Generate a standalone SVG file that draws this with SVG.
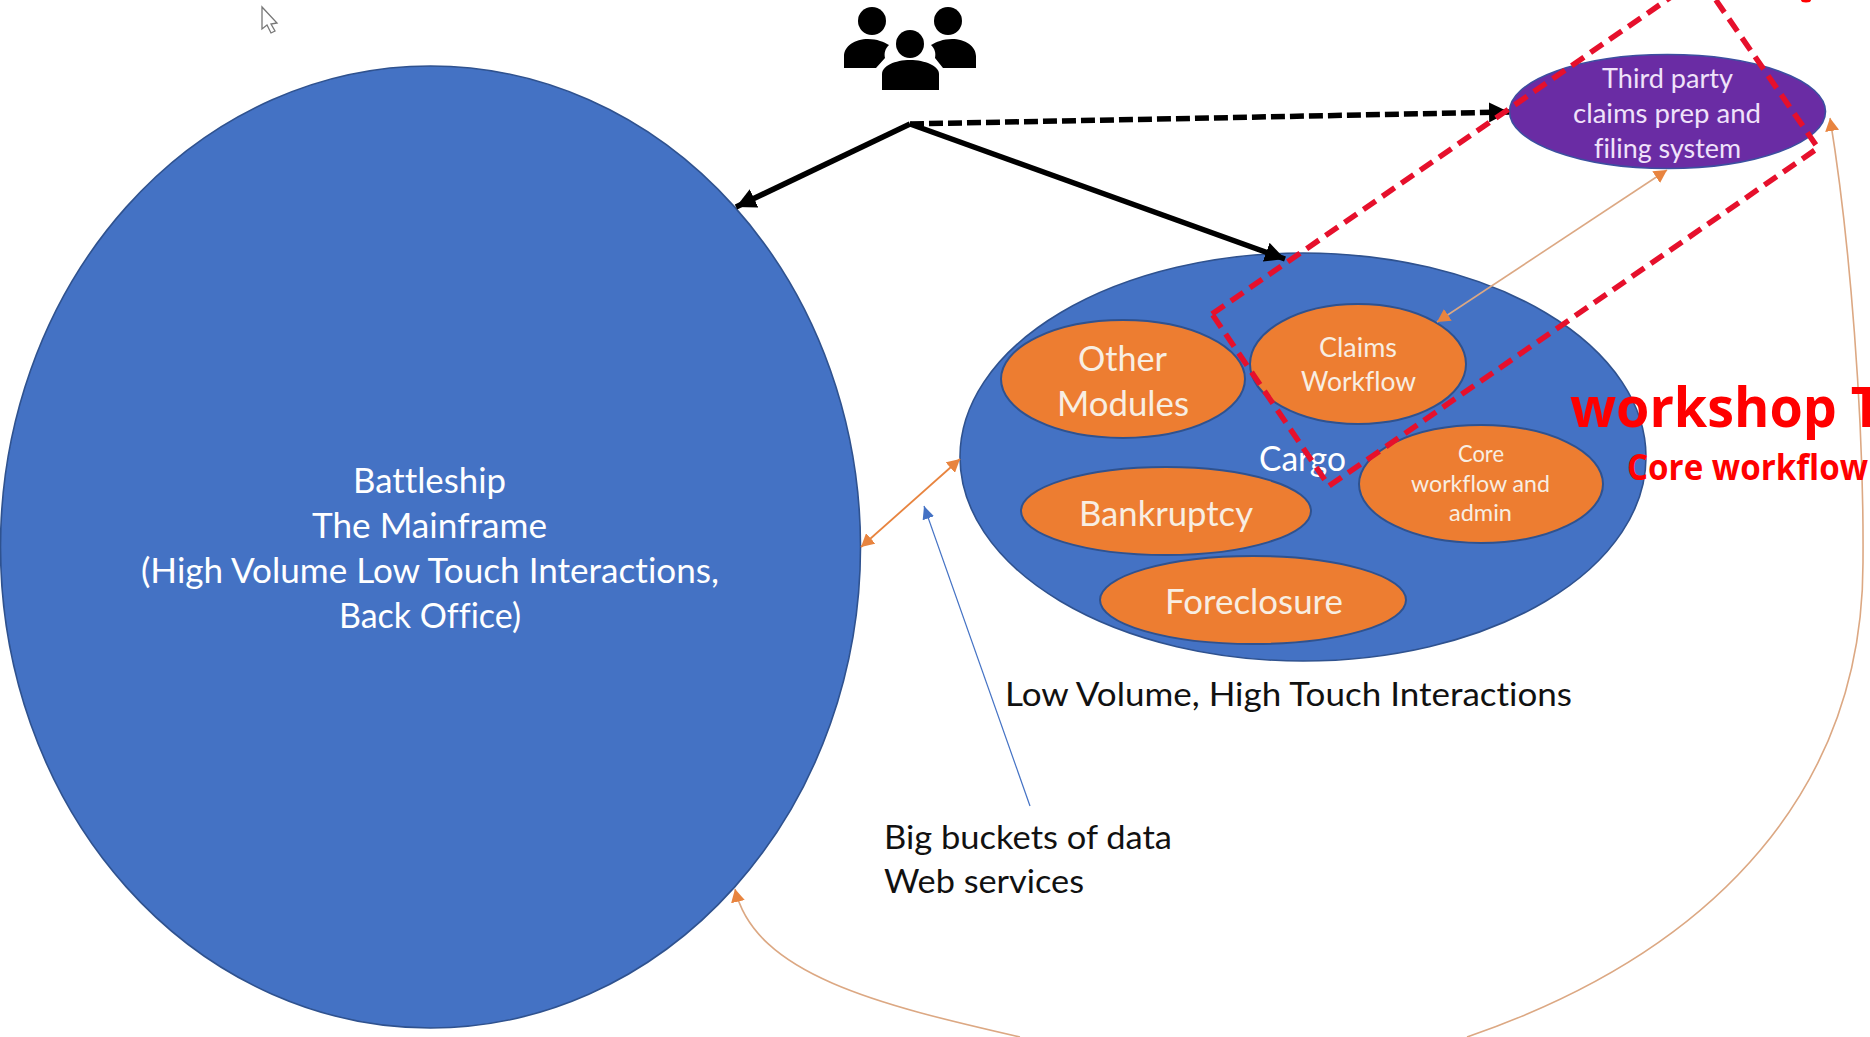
<svg xmlns="http://www.w3.org/2000/svg" width="1870" height="1037" viewBox="0 0 1870 1037">
<style>
text{font-family:"Lato","Open Sans","Liberation Sans",sans-serif;font-variant-ligatures:none}
.big{fill:#4472c4;stroke:#2f528f;stroke-width:1.6}
.or{fill:#ed7d31;stroke:#2f528f;stroke-width:2}
.w{fill:#fff}.w2{fill:#f8eee2}
.k{fill:#111}
.l{fill:#f0e2fa}
.red{fill:#f00;font-weight:700;font-family:"Open Sans","Liberation Sans",sans-serif}
.blk{fill:none;stroke:#000;stroke-width:5.5}
.thin{fill:none;stroke:#dca883;stroke-width:1.6}
</style>
<defs>
<marker id="ka" markerUnits="userSpaceOnUse" markerWidth="24" markerHeight="20" refX="20" refY="10" orient="auto"><path d="M0,0L20,10L0,20z" fill="#000"/></marker>
<marker id="oa" markerUnits="userSpaceOnUse" markerWidth="14" markerHeight="14" refX="13" refY="7" orient="auto-start-reverse"><path d="M0,0L13,7L0,14z" fill="#e8843f"/></marker>
<marker id="ba" markerUnits="userSpaceOnUse" markerWidth="14" markerHeight="12" refX="13" refY="6" orient="auto"><path d="M0,0L13,6L0,12z" fill="#4472c4"/></marker>
</defs>
<rect width="1870" height="1037" fill="#fff"/>
<g id="cursor"><path d="M262,7V29L267,25L271,33L275,31L271,24L277,23Z" fill="#fff" stroke="#777" stroke-width="1.3"/></g>
<g id="users" fill="#000">
<ellipse cx="872" cy="21" rx="14" ry="14"/><ellipse cx="948" cy="21" rx="14" ry="14"/><ellipse cx="910" cy="44" rx="14" ry="14"/>
<path d="M844,68V56C844,46 855,39 868,39C877,39 884,42 889,45C885,49 884,53 885,58L876,68Z"/>
<path d="M976,68V56C976,46 965,39 952,39C943,39 936,42 931,45C935,49 936,53 935,58L943,68Z"/>
<path d="M882,90V74C882,66 895,60 910,60C925,60 939,66 939,74V90Z"/>
</g>
<g id="battleship">
<ellipse class="big" cx="430.5" cy="547" rx="430" ry="481"/>
<text class="w" x="353" y="493" font-size="35" textLength="153" lengthAdjust="spacingAndGlyphs">Battleship</text>
<text class="w" x="312" y="538" font-size="35" textLength="235" lengthAdjust="spacingAndGlyphs">The Mainframe</text>
<text class="w" x="141" y="583" font-size="35" textLength="578" lengthAdjust="spacingAndGlyphs">(High Volume Low Touch Interactions,</text>
<text class="w" x="339" y="628" font-size="35" textLength="182" lengthAdjust="spacingAndGlyphs">Back Office)</text>
</g>
<g id="cargo">
<ellipse class="big" cx="1303" cy="457" rx="343" ry="204"/>
<text class="w" x="1259" y="471" font-size="34" textLength="87" lengthAdjust="spacingAndGlyphs">Cargo</text>
</g>
<g id="other-modules">
<ellipse class="or" cx="1123" cy="379" rx="122" ry="59"/>
<text class="w2" x="1078" y="371" font-size="35" textLength="89" lengthAdjust="spacingAndGlyphs">Other</text>
<text class="w2" x="1057" y="416" font-size="35" textLength="132" lengthAdjust="spacingAndGlyphs">Modules</text>
</g>
<g id="claims-workflow">
<ellipse class="or" cx="1358" cy="364" rx="108" ry="60"/>
<text class="w2" x="1319" y="357" font-size="27" textLength="78" lengthAdjust="spacingAndGlyphs">Claims</text>
<text class="w2" x="1301" y="391" font-size="27" textLength="115" lengthAdjust="spacingAndGlyphs">Workflow</text>
</g>
<g id="core-workflow">
<ellipse class="or" cx="1481" cy="484" rx="122" ry="59"/>
<text class="w2" x="1458" y="462" font-size="24" textLength="46" lengthAdjust="spacingAndGlyphs">Core</text>
<text class="w2" x="1411" y="492" font-size="24" textLength="139" lengthAdjust="spacingAndGlyphs">workflow and</text>
<text class="w2" x="1449" y="521" font-size="24" textLength="63" lengthAdjust="spacingAndGlyphs">admin</text>
</g>
<g id="bankruptcy">
<ellipse class="or" cx="1166" cy="511" rx="145" ry="44"/>
<text class="w2" x="1079" y="526" font-size="34" textLength="174" lengthAdjust="spacingAndGlyphs">Bankruptcy</text>
</g>
<g id="foreclosure">
<ellipse class="or" cx="1253" cy="600" rx="153" ry="44"/>
<text class="w2" x="1165" y="614" font-size="34" textLength="178" lengthAdjust="spacingAndGlyphs">Foreclosure</text>
</g>
<g id="third-party">
<ellipse cx="1667.5" cy="111.5" rx="158" ry="57" fill="#6a2ca4" stroke="#3c4fa0" stroke-width="1.6"/>
<text class="l" x="1602" y="88" font-size="27" textLength="131" lengthAdjust="spacingAndGlyphs">Third party</text>
<text class="l" x="1573" y="123" font-size="27" textLength="188" lengthAdjust="spacingAndGlyphs">claims prep and</text>
<text class="l" x="1594" y="158" font-size="27" textLength="147" lengthAdjust="spacingAndGlyphs">filing system</text>
</g>
<g id="connectors">
<path class="blk" d="M910,124L736,207" marker-end="url(#ka)"/>
<path class="blk" d="M910,124L1285,259" marker-end="url(#ka)"/>
<path class="blk" d="M910,124L1509,112" stroke-dasharray="14 5" marker-end="url(#ka)"/>
<path d="M861,547L960,459" fill="none" stroke="#e8843f" stroke-width="1.8" marker-start="url(#oa)" marker-end="url(#oa)"/>
<path d="M1030,806L924,506" fill="none" stroke="#4472c4" stroke-width="1.2" marker-end="url(#ba)"/>
<path class="thin" d="M1437,322L1667,170" marker-start="url(#oa)" marker-end="url(#oa)"/>
<path class="thin" d="M1020,1037C880,1005 755,975 735,889" marker-end="url(#oa)"/>
<path class="thin" d="M1467,1037C1720,950 1864,785 1863,560C1864,420 1850,240 1830,118" marker-end="url(#oa)"/>
<path d="M1212,314L1700,-23L1818,148L1329,486Z" fill="none" stroke="#e6102c" stroke-width="5.5" stroke-dasharray="15 8"/>
</g>
<g id="labels">
<text class="k" x="1005" y="706" font-size="33" textLength="567" lengthAdjust="spacingAndGlyphs">Low Volume, High Touch Interactions</text>
<text class="k" x="884" y="849" font-size="33" textLength="288" lengthAdjust="spacingAndGlyphs">Big buckets of data</text>
<text class="k" x="884" y="893" font-size="33" textLength="200" lengthAdjust="spacingAndGlyphs">Web services</text>
<text class="red" x="1570" y="427" font-size="56" textLength="312" lengthAdjust="spacingAndGlyphs">workshop T</text>
<text class="red" x="1627" y="480" font-size="35" textLength="241" lengthAdjust="spacingAndGlyphs">Core workflow</text>
<ellipse cx="1806" cy="0" rx="5" ry="2.5" fill="#f00"/>
</g>
</svg>
